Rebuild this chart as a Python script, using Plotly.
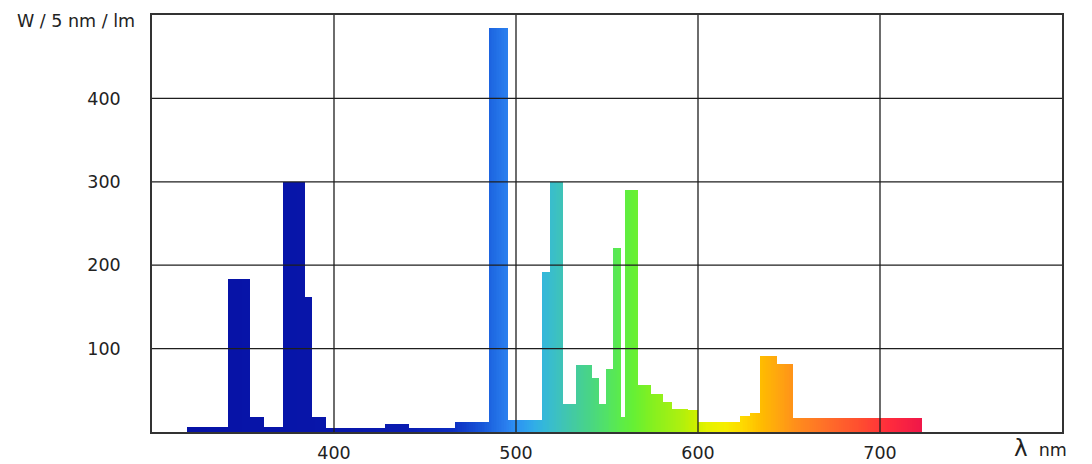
import math
import plotly.graph_objects as go

# ---- data (wavelength in nm, value in W / 5 nm / lm) ----
seg_start = [319.5, 342.3, 353.6, 361.5, 372.3, 384.0, 388.0, 395.7, 428.3, 441.0,
             466.7, 485.4, 495.6, 514.3, 519.2, 525.8, 533.1, 541.7, 545.7, 549.6,
             553.6, 557.6, 560.4, 567.0, 573.9, 581.0, 585.6, 594.7, 600.0, 623.3,
             628.8, 634.2, 643.4, 652.1]
seg_end_last = 722.8
seg_value = [6, 183, 18, 6, 300, 162, 18, 5, 10, 5,
             12, 485, 14, 192, 300, 33, 80, 65, 33, 75,
             221, 18, 290, 56, 45, 36, 28, 26, 12, 19,
             23, 91, 82, 17]

x_ticks = [400, 500, 600, 700]
y_ticks = [100, 200, 300, 400]

# spectrum colour stops (wavelength nm -> colour)
spec_wl = [320, 400, 440, 465, 480, 487, 495, 500, 510, 516, 522, 530, 540, 550,
           558, 565, 575, 590, 598, 605, 615, 625, 635, 645, 655, 670, 690, 705, 722]
spec_col = ["#0612A6", "#0816AA", "#0A1CB0", "#0C2CC0", "#1652D6", "#1E68E2", "#2A7EEE",
            "#2C92F4", "#30ACE8", "#34B8D8", "#3CC0C4", "#42C8A8", "#48D488", "#52E266",
            "#5CEC48", "#66F034", "#84F020", "#ACF010", "#C8F000", "#E4F200", "#F6EE00",
            "#FFD800", "#FFBC00", "#FFA410", "#FF8C1C", "#FF7028", "#FF4C30", "#FF2C3C",
            "#F01848"]

wl_min, wl_max = spec_wl[0], spec_wl[-1]
colorscale = [[(w - wl_min) / (wl_max - wl_min), c] for w, c in zip(spec_wl, spec_col)]

# split each segment into thin slices so the fill follows the spectrum gradient
seg_end = seg_start[1:] + [seg_end_last]
bx, by, bw, bc = [], [], [], []
for a, b, v in zip(seg_start, seg_end, seg_value):
    n = max(1, math.ceil((b - a) / 1.0))
    w = (b - a) / n
    for i in range(n):
        left = a + i * w
        bx.append(left)
        by.append(v)
        bw.append(w)
        bc.append(left + w / 2)

fig = go.Figure()
fig.add_trace(go.Bar(
    x=bx, y=by, width=bw, offset=0,
    marker=dict(color=bc, colorscale=colorscale, cmin=wl_min, cmax=wl_max,
                line=dict(width=0)),
    hoverinfo="skip", showlegend=False,
))

grid_col = "#1e1e1e"
shapes = []
for t in x_ticks:
    shapes.append(dict(type="line", xref="x", yref="paper", x0=t, x1=t, y0=0, y1=1,
                       line=dict(color=grid_col, width=1.3), layer="above"))
for t in y_ticks:
    shapes.append(dict(type="line", xref="paper", yref="y", x0=0, x1=1, y0=t, y1=t,
                       line=dict(color=grid_col, width=1.3), layer="above"))

font_family = "DejaVu Sans, Verdana, sans-serif"
fsize = 17.5
# the page body has an 8px margin, so the figure is sized to fit the 1092x464 window
fig.update_layout(
    width=1084, height=456,
    margin=dict(l=144, r=30, t=7, b=32, autoexpand=False),
    paper_bgcolor="white", plot_bgcolor="white",
    bargap=0,
    font=dict(family=font_family, size=fsize, color="#222222"),
    shapes=shapes,
    xaxis=dict(range=[300, 800], tickvals=x_ticks, ticktext=[str(t) for t in x_ticks],
               showgrid=False, zeroline=False, showline=True, mirror=True,
               linecolor="#333333", linewidth=1.5, ticks="", ticklabelstandoff=4,
               automargin=False, layer="above traces", fixedrange=True),
    yaxis=dict(range=[0, 500], tickvals=y_ticks, ticktext=[str(t) for t in y_ticks],
               showgrid=False, zeroline=False, showline=True, mirror=True,
               linecolor="#333333", linewidth=1.5, ticks="", ticklabelstandoff=26,
               automargin=False, layer="above traces", fixedrange=True),
    annotations=[
        dict(text="W / 5 nm / lm", xref="paper", yref="paper", x=-0.1505, y=0.9856,
             xanchor="left", yanchor="middle", showarrow=False,
             font=dict(family=font_family, size=fsize, color="#222222")),
        dict(text="<span style='font-size:23px'>λ</span>  nm", xref="paper", yref="paper",
             x=0.946, y=-0.0055, xanchor="left", yanchor="top", showarrow=False,
             borderpad=0,
             font=dict(family=font_family, size=fsize, color="#222222")),
    ],
)

fig.write_html("out.html")
